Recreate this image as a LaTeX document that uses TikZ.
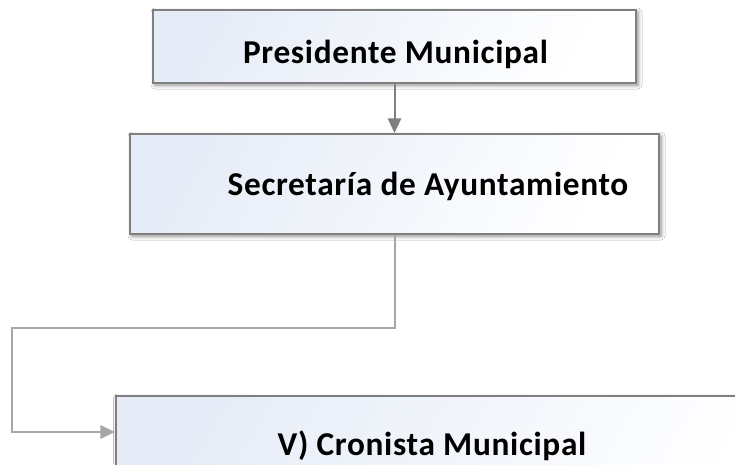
\documentclass[tikz,border=0pt]{standalone}
\usepackage{fontspec}
\setmainfont{Carlito}[LetterSpace=2]
\usetikzlibrary{arrows.meta,shadows.blur}
\definecolor{boxline}{HTML}{7F7F7F}
\definecolor{conA}{HTML}{808080}
\definecolor{conB}{HTML}{A6A6A6}
\definecolor{tint}{HTML}{E6ECF7}
\tikzset{
  orgbox/.style={draw=boxline, line width=1.5pt, rectangle, inner sep=0pt,
    left color=tint, right color=white, shading angle=60,
    blur shadow={shadow xshift=1.5pt, shadow yshift=-1.5pt, shadow blur steps=6,
      shadow blur radius=3pt, shadow opacity=45}},
  orglabel/.style={anchor=base, inner sep=0pt, font=\fontsize{25}{29}\selectfont\bfseries},
  linkA/.style={draw=conA, line width=1.5pt, -{Triangle[width=10pt,length=11pt]}},
  linkB/.style={draw=conB, line width=1.5pt, -{Triangle[width=10pt,length=11pt]}}
}
\begin{document}
\begin{tikzpicture}[x=0.75pt,y=-0.75pt]
\useasboundingbox (0,0) rectangle (735,464);
\clip (0,0) rectangle (735,464);
\fill[white] (0,0) rectangle (735,464);
\node[orgbox, minimum width=362.25pt, minimum height=54.75pt] (b1) at (394.5,46.5) {};
\node[orgbox, minimum width=396.75pt, minimum height=75pt] (b2) at (394.5,184) {};
\node[orgbox, minimum width=513pt, minimum height=93pt] (b3) at (457.5,458) {};
\node[orglabel] (t1) at (395.5,63) {Presidente Municipal};
\node[orglabel] (t2) at (428,195) {Secretaría de Ayuntamiento};
\node[orglabel] (t3) at (432,455) {V) Cronista Municipal};
\coordinate (c1) at (12,328);
\coordinate (c2) at (115,432);
\draw[linkA] (b1.south) -- (b2.north);
\draw[linkB] (b2.south) |- (c1) |- (c2);
\end{tikzpicture}
\end{document}
